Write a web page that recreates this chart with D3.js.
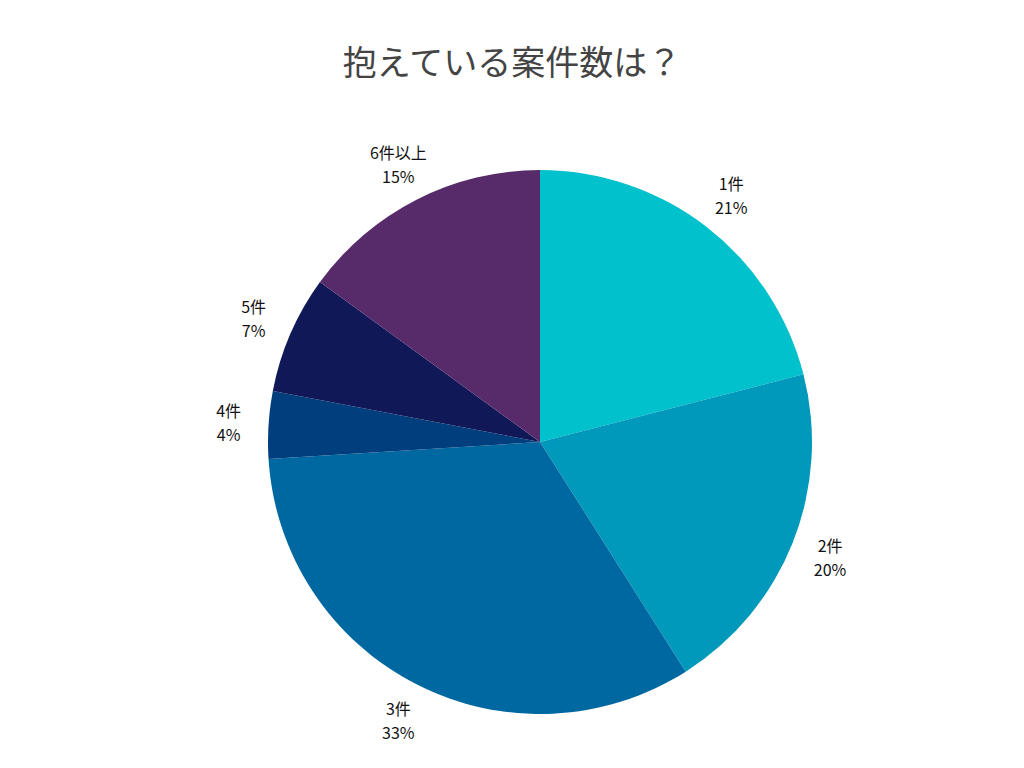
<!DOCTYPE html>
<html><head><meta charset="utf-8">
<script src="https://cdn.jsdelivr.net/npm/d3@7"></script>
<style>body{margin:0;background:#fff}</style>
</head><body>
<svg id="chart" width="1024" height="768"></svg>
<script>
var categories = ["1件", "2件", "3件", "4件", "5件", "6件以上"]
var values = [21, 20, 33, 4, 7, 15]
var colors = ["#00c1cc", "#0099bb", "#0068a0", "#003e7e", "#111858", "#572a6a"]

var svg = d3.select("#chart")
var font = "'Noto Sans CJK JP', 'Noto Sans', sans-serif"

svg.append("text")
  .attr("x", 512).attr("y", 75)
  .attr("text-anchor", "middle")
  .style("font-family", font).style("font-size", "34px").style("fill", "#444")
  .text("抱えている案件数は？")

var radius = 272
var g = svg.append("g").attr("transform", "translate(540,442)")

var pie = d3.pie().sort(null).value(function(d){ return d.value })
var data_ready = pie(categories.map(function(c, i){ return {key: c, value: values[i], color: colors[i]} }))

var arc = d3.arc().innerRadius(0).outerRadius(radius)
var labelArc = d3.arc().innerRadius(312).outerRadius(312)

g.selectAll("path").data(data_ready).enter().append("path")
  .attr("d", arc)
  .attr("fill", function(d){ return d.data.color })

var labels = g.selectAll("text.lbl").data(data_ready).enter().append("text")
  .attr("class", "lbl")
  .attr("transform", function(d){ return "translate(" + labelArc.centroid(d) + ")" })
  .attr("text-anchor", "middle")
  .style("font-family", font).style("font-size", "16px").style("fill", "#111")
labels.append("tspan").attr("x", 0).attr("y", -5).text(function(d){ return d.data.key })
labels.append("tspan").attr("x", 0).attr("y", 19).text(function(d){ return d.data.value + "%" })
</script>
</body></html>
